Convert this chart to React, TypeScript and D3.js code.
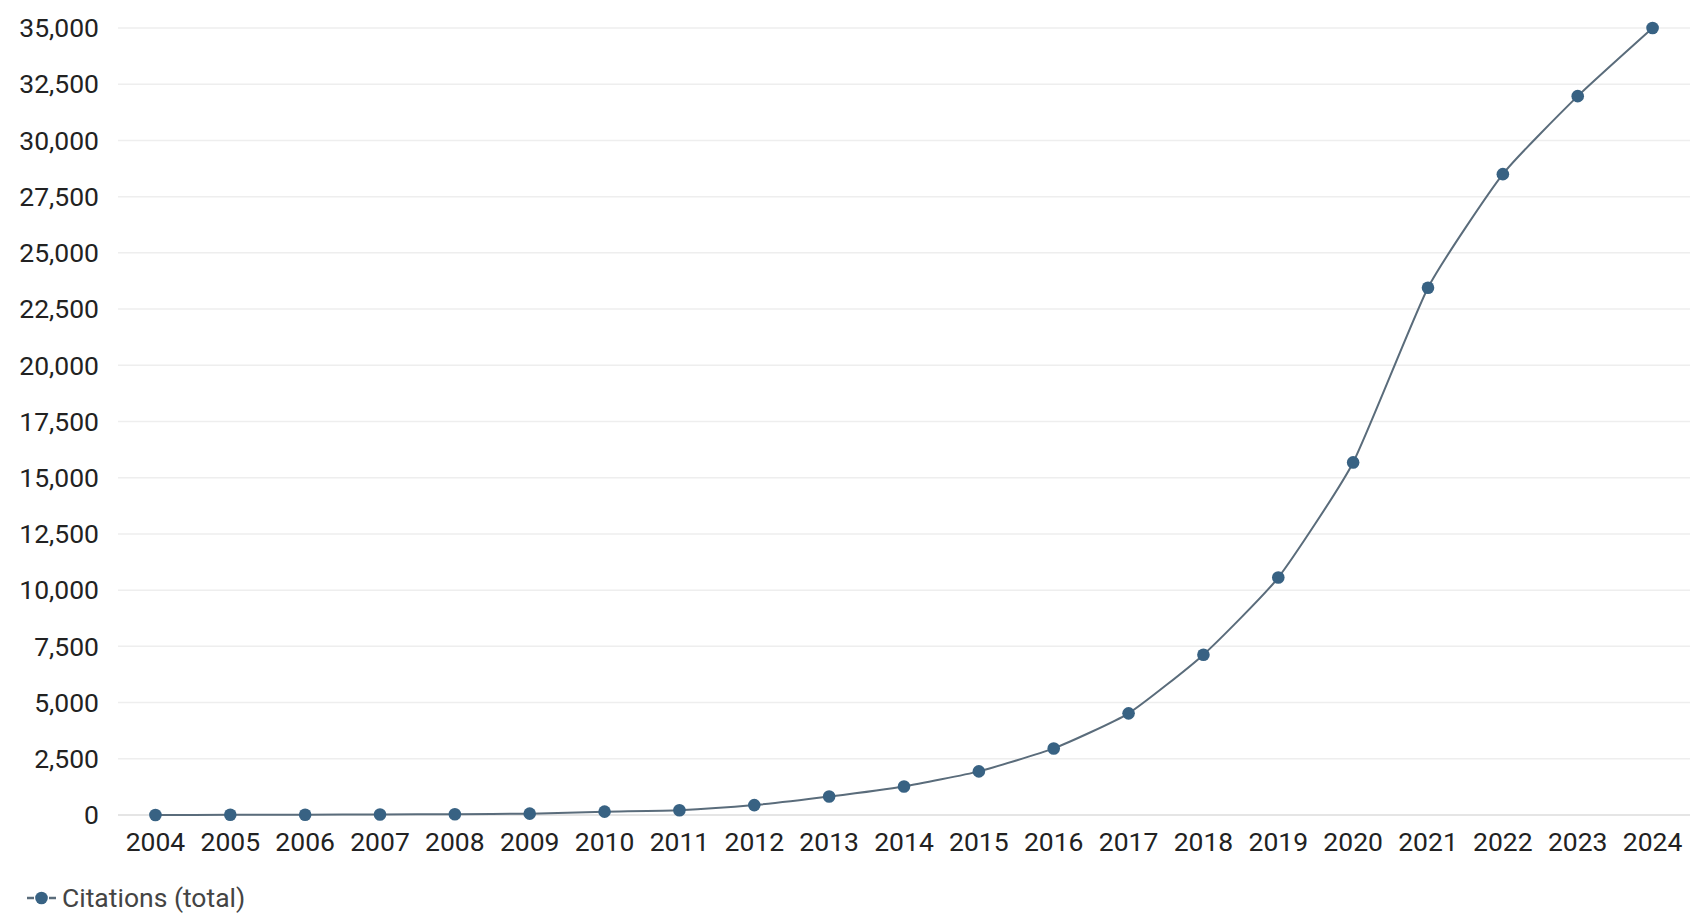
import React from "react";
import * as d3 from "d3";

const years = [2004, 2005, 2006, 2007, 2008, 2009, 2010, 2011, 2012, 2013, 2014, 2015, 2016, 2017, 2018, 2019, 2020, 2021, 2022, 2023, 2024];
const citations = [3, 8, 14, 22, 35, 60, 150, 210, 440, 820, 1270, 1940, 2960, 4520, 7130, 10560, 15680, 23450, 28500, 31970, 35000];
const yTicks = [0, 2500, 5000, 7500, 10000, 12500, 15000, 17500, 20000, 22500, 25000, 27500, 30000, 32500, 35000];
const seriesName = "Citations (total)";

const W = 1703;
const H = 922;
const left = 118;
const right = 1690;
const top = 28;
const bottom = 815;
const FONT = "Roboto, 'Noto Sans', sans-serif";
const DOT = "#386283";
const LINE = "#5a6c7b";
const FS = 26.5;

export default function App() {
  const x = d3.scalePoint<number>().domain(years).range([left, right]).padding(0.5);
  const y = d3.scaleLinear().domain([0, 35000]).range([bottom, top]);
  const fmt = d3.format(",");
  const line = d3
    .line<number>()
    .x((_, i) => x(years[i]) as number)
    .y((d) => y(d))
    .curve(d3.curveCardinal.tension(0.5));

  return (
    <svg width={W} height={H} style={{ position: "absolute", left: 0, top: 0, background: "#fff" }}>
      <g>
        {yTicks.map((t) => (
          <g key={t}>
            <line x1={left} x2={right} y1={y(t)} y2={y(t)} stroke={t === 0 ? "#dcdcdc" : "#eeeeee"} strokeWidth={1.5} />
            <text x={99} y={y(t)} dy="0.35em" textAnchor="end" fontFamily={FONT} fontSize={FS} fill="#222">
              {fmt(t)}
            </text>
          </g>
        ))}
      </g>
      <g>
        {years.map((yr) => (
          <text key={yr} x={x(yr)} y={851} textAnchor="middle" fontFamily={FONT} fontSize={FS} fill="#222">
            {yr}
          </text>
        ))}
      </g>
      <path d={line(citations) || ""} fill="none" stroke={LINE} strokeWidth={2} />
      {citations.map((v, i) => (
        <circle key={years[i]} cx={x(years[i])} cy={y(v)} r={6.3} fill={DOT} />
      ))}
      <g>
        <line x1={27} x2={34} y1={898} y2={898} stroke={LINE} strokeWidth={2.5} />
        <line x1={49} x2={56} y1={898} y2={898} stroke={LINE} strokeWidth={2.5} />
        <circle cx={41.5} cy={898} r={6.3} fill={DOT} />
        <text x={62} y={898} dy="0.35em" fontFamily={FONT} fontSize={FS} fill="#444">
          {seriesName}
        </text>
      </g>
    </svg>
  );
}
